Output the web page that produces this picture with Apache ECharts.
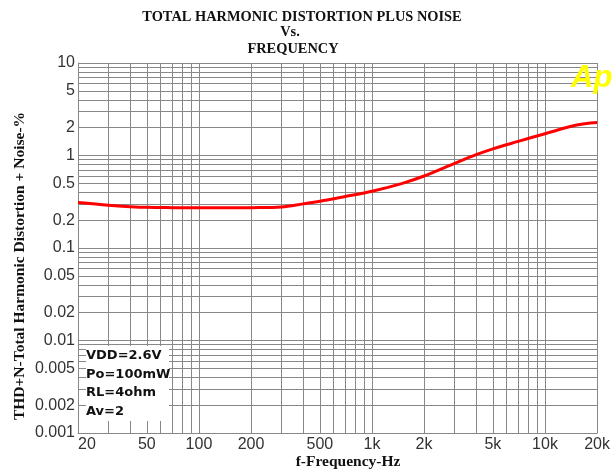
<!DOCTYPE html>
<html>
<head>
<meta charset="utf-8">
<script src="https://cdn.jsdelivr.net/npm/echarts@6/dist/echarts.min.js"></script>
<style>
  html, body { margin: 0; padding: 0; background: #fff; }
  #chart { width: 613px; height: 472px; }
</style>
</head>
<body>
<div id="chart"></div>
<script>
// THD+N (%) against frequency (Hz)
const freqHz = [20, 30, 40, 50, 70, 100, 150, 200, 300, 400, 500, 700, 1000, 1500, 2000, 3000, 4000, 5000, 7000, 10000, 15000, 20000];
const thdPct = [0.31, 0.29, 0.28, 0.275, 0.273, 0.272, 0.272, 0.273, 0.278, 0.30, 0.32, 0.36, 0.41, 0.50, 0.60, 0.82, 1.02, 1.18, 1.42, 1.72, 2.12, 2.27];

// labelled ticks
const xLabels = [20, 50, 100, 200, 500, 1000, 2000, 5000, 10000, 20000];
const yLabels = [0.001, 0.002, 0.005, 0.01, 0.02, 0.05, 0.1, 0.2, 0.5, 1, 2, 5, 10];

// grid lines: every 1..9 step of each decade
const xGrid = [20, 30, 40, 50, 60, 70, 80, 90,
  100, 200, 300, 400, 500, 600, 700, 800, 900,
  1000, 2000, 3000, 4000, 5000, 6000, 7000, 8000, 9000,
  10000, 20000];
const yGrid = [0.001, 0.002, 0.003, 0.004, 0.005, 0.006, 0.007, 0.008, 0.009,
  0.01, 0.02, 0.03, 0.04, 0.05, 0.06, 0.07, 0.08, 0.09,
  0.1, 0.2, 0.3, 0.4, 0.5, 0.6, 0.7, 0.8, 0.9,
  1, 2, 3, 4, 5, 6, 7, 8, 9, 10];

const conditions = ['VDD=2.6V', 'Po=100mW', 'RL=4ohm', 'Av=2'];

const gridColor = '#888';
const labelFont = { fontFamily: 'Liberation Sans', fontSize: 16, color: '#333' };
const serifBold = { fontFamily: 'Liberation Serif', fontWeight: 'bold', fill: '#111' };

function freqLabel(v) {
  return v >= 1000 ? (v / 1000) + 'k' : String(v);
}
function near(a, b) { return Math.abs(a - b) / b < 1e-6; }

const chart = echarts.init(document.getElementById('chart'), null, { renderer: 'canvas' });

const option = {
  animation: false,
  backgroundColor: '#fff',
  grid: { left: 78, right: -2, top: 63, bottom: 39, containLabel: false },
  xAxis: [
    {
      type: 'log', logBase: 10, min: 20, max: 20000,
      axisLine: { show: false },
      axisTick: { show: false, customValues: xGrid },
      splitLine: { show: true, lineStyle: { color: gridColor, width: 1 } },
      axisLabel: {
        show: true, customValues: xLabels, margin: 4,
        alignMinLabel: 'left',
        formatter: freqLabel, ...labelFont
      }
    },
    {
      // tick marks drawn above the conditions box
      type: 'log', logBase: 10, min: 20, max: 20000, position: 'bottom', z: 10,
      axisLine: { show: true, lineStyle: { color: gridColor, width: 1 } },
      axisTick: { show: true, inside: true, length: 12, customValues: xGrid, lineStyle: { color: gridColor } },
      splitLine: { show: false },
      axisLabel: { show: false }
    }
  ],
  yAxis: [
    {
      type: 'log', logBase: 10, min: 0.001, max: 10,
      axisLine: { show: false },
      axisTick: { show: false, customValues: yGrid },
      splitLine: { show: true, lineStyle: { color: gridColor, width: 1 } },
      axisLabel: {
        show: true, customValues: yLabels, margin: 3,
        formatter: function (v) {
          for (const l of yLabels) { if (near(v, l)) return String(l); }
          return String(v);
        },
        ...labelFont
      }
    },
    {
      type: 'log', logBase: 10, min: 0.001, max: 10, position: 'left', z: 10,
      axisLine: { show: true, lineStyle: { color: gridColor, width: 1 } },
      axisTick: { show: true, inside: true, length: 8, customValues: yGrid, lineStyle: { color: gridColor } },
      splitLine: { show: false },
      axisLabel: { show: false }
    }
  ],
  series: [
    {
      type: 'line',
      xAxisIndex: 0, yAxisIndex: 0,
      data: freqHz.map((f, i) => [f, thdPct[i]]),
      smooth: 0.35,
      showSymbol: false,
      lineStyle: { color: '#ff0000', width: 3 },
      z: 12
    }
  ],
  graphic: [
    // chart title
    { type: 'text', x: 302, y: 17, z: 20, style: { text: 'TOTAL HARMONIC DISTORTION PLUS NOISE', fontSize: 14.4, align: 'center', verticalAlign: 'middle', ...serifBold } },
    { type: 'text', x: 290, y: 32, z: 20, style: { text: 'Vs.', fontSize: 14.4, align: 'center', verticalAlign: 'middle', ...serifBold } },
    { type: 'text', x: 293, y: 49, z: 20, style: { text: 'FREQUENCY', fontSize: 14.4, align: 'center', verticalAlign: 'middle', ...serifBold } },
    // axis titles
    { type: 'text', x: 348, y: 462, z: 20, style: { text: 'f-Frequency-Hz', fontSize: 15.5, align: 'center', verticalAlign: 'middle', ...serifBold } },
    { type: 'text', x: 20, y: 266, rotation: Math.PI / 2, z: 20, style: { text: 'THD+N-Total Harmonic Distortion + Noise-%', fontSize: 15.5, align: 'center', verticalAlign: 'middle', ...serifBold } },
    // measurement conditions box
    { type: 'rect', shape: { x: 79, y: 346, width: 90, height: 86 }, z: 5, style: { fill: '#fff' } },
    ...conditions.map((t, i) => ({
      type: 'text', x: 86, y: 355.5 + i * 18.7, z: 20,
      style: { text: t, fontFamily: 'DejaVu Sans', fontWeight: 'bold', fontSize: 13, fill: '#111', align: 'left', verticalAlign: 'middle' }
    })),
    // analyzer mark
    { type: 'text', x: 571, y: 78, z: 20, style: { text: 'Ap', fontFamily: 'Liberation Sans', fontWeight: 'bold', fontStyle: 'italic', fontSize: 31, fill: '#ffff00', align: 'left', verticalAlign: 'middle' } }
  ]
};

chart.setOption(option);
</script>
</body>
</html>
